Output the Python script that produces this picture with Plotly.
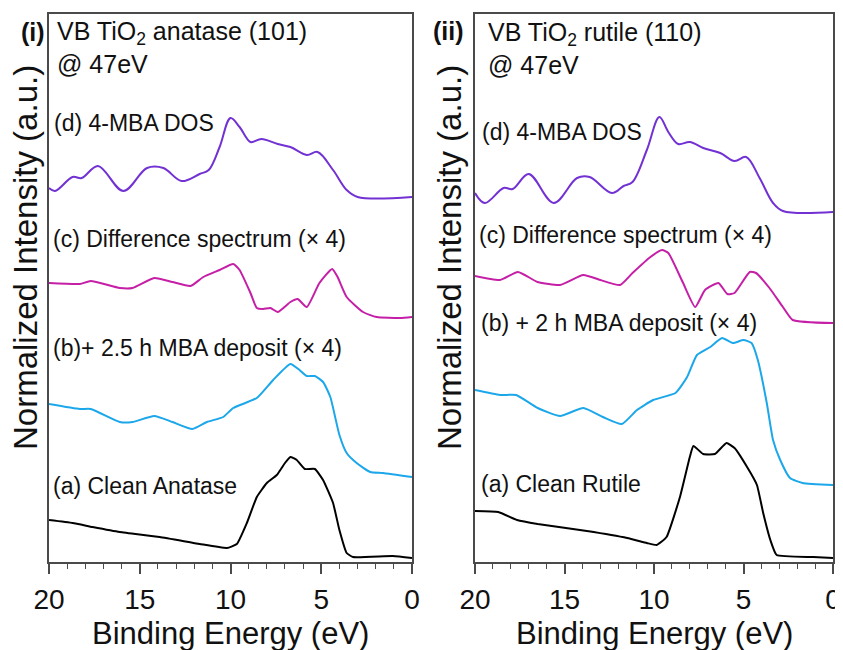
import plotly.graph_objects as go

W, H = 843, 650

# ---------------- Panel (i): anatase (101) ----------------
a1_E = [20, 18.7, 17.6, 16.1, 13.9, 11.7, 10.2, 9.65, 9.1, 8.55, 8.0, 7.45, 7.0, 6.7, 6.35, 5.9, 5.35, 4.9, 4.35, 4.0, 3.6, 3.25, 1.05, 0]
a1_I = [42, 39, 35, 30, 25, 18, 14, 18, 39, 65, 79, 87, 99, 105, 102, 93, 93, 82, 59, 32, 9, 5, 6, 4]

b1_E = [20, 18.3, 17.7, 16.1, 15.4, 14.2, 13.2, 12.1, 11.3, 10.4, 9.85, 8.55, 7.65, 6.7, 6.2, 5.8, 5.35, 4.9, 4.5, 4.0, 3.6, 3.05, 2.3, 1.6, 0]
b1_I = [158, 153, 153, 140, 140, 146, 140, 133, 140, 145, 154, 164, 182, 198, 192, 186, 186, 180, 165, 127, 109, 99, 90, 89, 85]

c1_E = [20, 18.3, 17.7, 16.1, 15.4, 14.2, 13.2, 12.2, 11.5, 10.6, 9.85, 9.5, 8.9, 8.55, 8.2, 7.8, 7.4, 6.7, 6.3, 5.8, 5.1, 4.4, 4.1, 3.6, 2.7, 1.95, 0.65, 0]
c1_I = [279, 278, 281, 274, 274, 284, 280, 276, 285, 292, 298, 292, 269, 254, 253, 254, 250, 260, 263, 255, 279, 293, 285, 265, 250, 245, 244, 245]

d1_E = [20, 19.67, 18.7, 18.2, 17.3, 15.9, 14.6, 13.7, 12.7, 11.7, 11.2, 10.6, 10.0, 9.5, 8.9, 8.3, 7.4, 6.7, 5.8, 5.2, 4.35, 3.6, 3.0, 0]
d1_I = [374, 371, 385, 384, 396, 371, 394, 394, 381, 388, 392, 415, 444, 435, 420, 423, 418, 415, 407, 410, 392, 372, 365, 365]

# ---------------- Panel (ii): rutile (110) ----------------
a2_E = [20, 18.7, 17.65, 16.5, 13.75, 11.5, 10.4, 9.85, 9.3, 8.55, 8.0, 7.8, 7.25, 6.6, 5.95, 5.5, 4.8, 4.25, 3.9, 3.5, 3.15, 1.1, 0]
a2_I = [51, 50, 42, 38, 31, 24, 19, 17, 25, 65, 105, 116, 108, 108, 119, 114, 95, 77, 49, 22, 7, 5, 4]

b2_E = [20, 18.6, 17.7, 16.5, 15.25, 13.95, 12.85, 11.8, 10.95, 10.05, 8.8, 8.15, 7.6, 6.85, 6.2, 5.6, 5.0, 4.55, 4.2, 3.7, 3.35, 2.95, 2.4, 1.7, 0]
b2_I = [172, 167, 167, 154, 146, 154, 145, 138, 152, 162, 169, 185, 207, 215, 224, 219, 222, 219, 202, 159, 122, 102, 84, 79, 77]

c2_E = [20, 18.6, 17.6, 16.5, 15.25, 13.95, 13.0, 11.9, 11.2, 10.2, 9.55, 9.2, 8.4, 7.7, 7.15, 6.4, 5.9, 5.5, 4.65, 4.3, 3.55, 2.8, 2.25, 0]
c2_I = [286, 282, 290, 280, 277, 287, 282, 277, 289, 305, 312, 309, 280, 255, 272, 279, 268, 269, 290, 289, 274, 255, 242, 239]

d2_E = [20, 19.45, 18.4, 17.9, 17.0, 15.6, 14.3, 13.6, 12.35, 11.7, 11.2, 10.4, 9.7, 9.2, 8.65, 8.0, 7.25, 6.3, 5.5, 4.85, 4.1, 3.35, 2.8, 0]
d2_I = [369, 359, 374, 373, 388, 359, 384, 385, 369, 376, 380, 412, 445, 430, 418, 420, 414, 409, 401, 405, 384, 359, 351, 350]

x_ticks = [20, 15, 10, 5, 0]
x_title = "Binding Energy (eV)"
y_title = "Normalized Intensity (a.u.)"

COL_A = "#000000"
COL_B = "#1BA7EA"
COL_C = "#C41FA6"
COL_D = "#7231D3"
FONT = "Arial, 'Liberation Sans', sans-serif"
FRAME = "#4a4a4a"

# page offset of the figure inside the browser page (default body margin)
OFF = 8

fig = go.Figure()

panels = [
    ("x", "y", [(a1_E, a1_I, COL_A, 0.4), (b1_E, b1_I, COL_B, 0.5), (c1_E, c1_I, COL_C, 0.5), (d1_E, d1_I, COL_D, 1.0)]),
    ("x2", "y2", [(a2_E, a2_I, COL_A, 0.4), (b2_E, b2_I, COL_B, 0.5), (c2_E, c2_I, COL_C, 0.5), (d2_E, d2_I, COL_D, 1.0)]),
]
for xa, ya, series in panels:
    for E, I, col, sm in series:
        fig.add_trace(go.Scatter(
            x=E, y=I, xaxis=xa, yaxis=ya, mode="lines",
            line=dict(color=col, width=2, shape="spline", smoothing=sm),
            showlegend=False, hoverinfo="skip"))

def fx(x):
    return (x - OFF) / W

def fy(y):
    return 1 - (y - OFF) / H

def xaxis_cfg(x0, x1, anchor):
    return dict(
        domain=[fx(x0), fx(x1)], range=[20, 0], tickvals=x_ticks, ticks="outside", ticklen=10,
        tickwidth=1.5, tickcolor=FRAME, showline=True, linecolor=FRAME, linewidth=1.5,
        mirror=True, showgrid=False, zeroline=False, anchor=anchor, automargin=False,
        tickfont=dict(family=FONT, size=28, color="#111"),
        ticklabelstandoff=2,
        minor=dict(dtick=1, tick0=0, ticks="outside", ticklen=5, tickwidth=1.2,
                   tickcolor=FRAME, showgrid=False),
    )

def yaxis_cfg(anchor):
    return dict(
        domain=[fy(562), fy(14)], range=[0, 548], anchor=anchor, automargin=False,
        showticklabels=False, ticks="", showline=True, linecolor=FRAME,
        linewidth=1.5, mirror=True, showgrid=False, zeroline=False,
    )

fig.update_layout(
    width=W, height=H,
    margin=dict(l=0, r=0, t=0, b=0, pad=0),
    paper_bgcolor="white", plot_bgcolor="white",
    xaxis=xaxis_cfg(49, 412, "y"),
    xaxis2=xaxis_cfg(475, 833, "y2"),
    yaxis=yaxis_cfg("x"),
    yaxis2=yaxis_cfg("x2"),
)

anns = []
def add_text(text, x, y, size, xanchor="left", bold=False, angle=0):
    anns.append(dict(
        text=f"<b>{text}</b>" if bold else text, x=fx(x), y=fy(y), xref="paper", yref="paper",
        xanchor=xanchor, yanchor="middle", showarrow=False, textangle=angle,
        font=dict(family=FONT, size=size, color="#111")))

# panel tags and titles
add_text("(i)", 33, 32, 25, xanchor="center", bold=True)
add_text("(ii)", 448, 31, 25, xanchor="center", bold=True)
add_text("VB TiO<sub>2</sub> anatase (101)", 55, 33, 25)
add_text("@ 47eV", 55, 64, 25)
add_text("VB TiO<sub>2</sub> rutile (110)", 486, 34, 25)
add_text("@ 47eV", 486, 65, 25)

# curve labels
add_text("(d) 4-MBA DOS", 52, 123, 23)
add_text("(c) Difference spectrum (× 4)", 51, 239, 23)
add_text("(b)+ 2.5 h MBA deposit (× 4)", 51, 348, 23)
add_text("(a) Clean Anatase", 51, 486, 23)
add_text("(d) 4-MBA DOS", 480, 132, 23)
add_text("(c) Difference spectrum (× 4)", 477, 235, 23)
add_text("(b) + 2 h MBA deposit (× 4)", 479, 323, 23)
add_text("(a) Clean Rutile", 479, 484, 23)

# axis titles
add_text(x_title, 230, 633, 31, xanchor="center")
add_text(x_title, 654, 633, 31, xanchor="center")
add_text(y_title, 26, 258, 33, xanchor="center", angle=-90)
add_text(y_title, 450, 258, 33, xanchor="center", angle=-90)

fig.update_layout(annotations=anns)

fig.write_html("out.html")
